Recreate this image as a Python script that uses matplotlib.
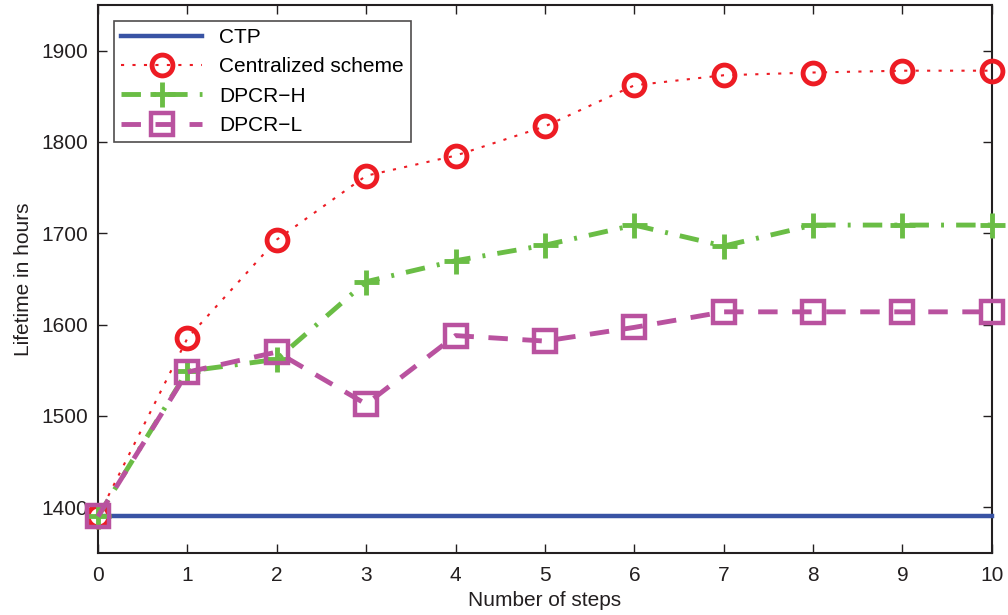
import matplotlib
matplotlib.use("Agg")
import matplotlib.pyplot as plt

plt.rcParams['font.family'] = ['Liberation Sans', 'DejaVu Sans']

steps = list(range(11))
ctp = [1390] * 11
centralized = [1390, 1585, 1693, 1763, 1785, 1817, 1862, 1873, 1876, 1878, 1878]
dpcr_h = [1390, 1549, 1562, 1647, 1670, 1687, 1709, 1686, 1709, 1709, 1709]
dpcr_l = [1390, 1548, 1570, 1513, 1588, 1582, 1597, 1614, 1614, 1614, 1614]
labels = ['CTP', 'Centralized scheme', 'DPCR\u2212H', 'DPCR\u2212L']

fig = plt.figure(figsize=(10.08, 6.15), dpi=100)
ax = fig.add_axes([0.0972, 0.1008, 0.8868, 0.8912])

ax.plot(steps, ctp, color='#3953a4', lw=3.2, label=labels[0], clip_on=False, zorder=3)
ax.plot(steps, centralized, color='#ed1c24', lw=1.5, ls=(0, (1.5, 4)),
        marker='o', ms=15, mew=3.5, mfc='none', mec='#ed1c24', label=labels[1],
        clip_on=False, zorder=4)
ax.plot(steps, dpcr_h, color='#6abd45', lw=3.5, ls=(0, (4, 2.5, 0.6, 2.5)),
        marker='+', ms=18, mew=3.5, label=labels[2], clip_on=False, zorder=5)
ax.plot(steps, dpcr_l, color='#b9529f', lw=3.5, ls=(0, (4, 3)),
        marker='s', ms=16, mew=3.2, mfc='none', mec='#b9529f', label=labels[3],
        clip_on=False, zorder=6)

ax.set_xlim(0, 10)
ax.set_ylim(1350, 1950)
ax.set_xticks(range(11))
ax.set_yticks([1400, 1500, 1600, 1700, 1800, 1900])
ax.tick_params(direction='in', top=True, right=True, length=6.5, width=1,
               labelsize=15, colors='#231f20', pad=9)
ax.tick_params(axis='y', pad=7)
for s in ax.spines.values():
    s.set_linewidth(1.5)
    s.set_color('#231f20')
ax.set_xlabel('Number of steps', fontsize=15, color='#231f20', labelpad=5)
ax.set_ylabel('Lifetime in hours', fontsize=15, color='#231f20', labelpad=6)

leg = ax.legend(loc='upper left', fontsize=15, frameon=True, fancybox=False,
                edgecolor='#231f20', handlelength=3.9, borderaxespad=0.75,
                labelspacing=0.5, handletextpad=0.8, borderpad=0.35)
leg.get_frame().set_linewidth(1.2)
leg.set_zorder(10)

fig.savefig('out.png', dpi=100)
